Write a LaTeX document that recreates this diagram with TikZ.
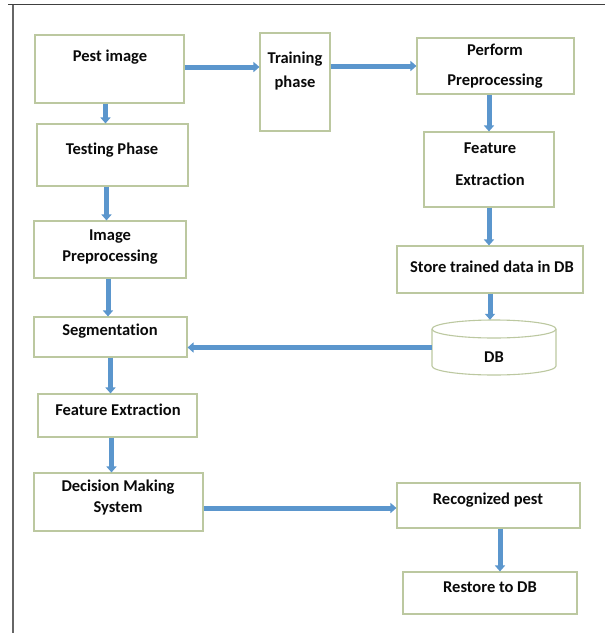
\documentclass[tikz,border=0pt]{standalone}
\usepackage{fontspec}
\setmainfont{Carlito}[Ligatures=NoCommon]
\usetikzlibrary{arrows.meta,calc}
\definecolor{boxline}{RGB}{188,200,160}
\definecolor{arrowblue}{RGB}{91,150,205}
\definecolor{txt}{RGB}{10,10,10}
\begin{document}
\begin{tikzpicture}[x=1pt,y=1pt,
  box/.style={draw=boxline,line width=1.1pt,fill=white,rectangle,inner sep=0pt},
  lbl/.style={text=txt,font=\bfseries\fontsize{16.5}{19}\selectfont,inner sep=0pt,anchor=center},
  flow/.style={draw=arrowblue,line width=5pt,-{Triangle[width=10pt,length=6pt]}},
  hole/.style={inner sep=0pt,minimum width=124pt,minimum height=55pt}]
\useasboundingbox (0,0) rectangle (605,-633);
\fill[white] (0,0) rectangle (605,-633);
% frame
\coordinate (ftl) at (8,-4.5);
\coordinate (ftr) at (605,-4.5);
\coordinate (fl1) at (13,-4.5);
\coordinate (fl2) at (13,-633);
\draw[line width=1.4pt,black!75] (ftl) -- (ftr);
\draw[line width=1.6pt,black!60] (fl1) -- (fl2);

% boxes
\node[box,minimum width=149pt,minimum height=68pt] (pest) at (109.5,-69) {};
\node[box,minimum width=70pt,minimum height=98pt] (train) at (295,-82) {};
\node[box,minimum width=157pt,minimum height=56pt] (perf) at (495.5,-66) {};
\node[box,minimum width=151pt,minimum height=62pt] (test) at (112.5,-155) {};
\node[box,minimum width=130pt,minimum height=75pt] (fer) at (489,-169.5) {};
\node[box,minimum width=152pt,minimum height=57pt] (imgpre) at (110,-249.5) {};
\node[box,minimum width=186pt,minimum height=47pt] (store) at (490,-269.5) {};
\node[box,minimum width=153pt,minimum height=40pt] (seg) at (110.5,-337) {};
\node[box,minimum width=159pt,minimum height=43pt] (fel) at (117.5,-415.5) {};
\node[box,minimum width=169pt,minimum height=58pt] (dec) at (118.5,-502) {};
\node[box,minimum width=183pt,minimum height=45pt] (rec) at (488.5,-505.5) {};
\node[box,minimum width=174pt,minimum height=42pt] (rest) at (490,-593) {};

% DB cylinder
\node[hole] (db) at (494,-347.5) {};
\draw[draw=boxline,line width=1.1pt,fill=white]
  (432,-329) -- (432,-366) arc[start angle=180,end angle=360,x radius=62,y radius=9]
  -- (556,-329) arc[start angle=0,end angle=180,x radius=62,y radius=9] -- cycle;
\draw[draw=boxline,line width=1.1pt] (432,-329) arc[start angle=180,end angle=360,x radius=62,y radius=9];

% labels
\node[lbl] (t-pest) at (110,-57) {Pest image};
\node[lbl] (t-train1) at (295,-59) {Training};
\node[lbl] (t-train2) at (295,-83) {phase};
\node[lbl] (t-perf1) at (495,-50) {Perform};
\node[lbl] (t-perf2) at (495,-81) {Preprocessing};
\node[lbl] (t-test) at (112,-150) {Testing Phase};
\node[lbl] (t-fer1) at (490,-148) {Feature};
\node[lbl] (t-fer2) at (490,-180) {Extraction};
\node[lbl] (t-img1) at (110,-237) {Image};
\node[lbl] (t-img2) at (110,-257) {Preprocessing};
\node[lbl] (t-store) at (492,-267) {Store trained data in DB};
\node[lbl] (t-seg) at (110,-331) {Segmentation};
\node[lbl] (t-db) at (494,-357) {DB};
\node[lbl] (t-fel) at (118,-410) {Feature Extraction};
\node[lbl] (t-dec1) at (118,-487) {Decision Making};
\node[lbl] (t-dec2) at (118,-508) {System};
\node[lbl] (t-rec) at (488,-500) {Recognized pest};
\node[lbl] (t-rest) at (490,-587) {Restore to DB};

% connectors
\draw[flow] ([yshift=2pt]pest.east) -- ([yshift=2pt]pest.east -| train.west);
\draw[flow] (train.east |- perf.west) -- (perf.west);
\draw[flow] ([xshift=-4pt]pest.south) -- ([xshift=-4pt]pest.south |- test.north);
\draw[flow] (fer.north |- perf.south) -- (fer.north);
\draw[flow] (fer.south) -- (fer.south |- store.north);
\draw[flow] (store.south) -- (store.south |- db.north);
\draw[flow] ([xshift=-6pt]test.south) -- ([xshift=-6pt]test.south |- imgpre.north);
\draw[flow] ([xshift=-2pt]imgpre.south) -- ([xshift=-2pt]imgpre.south |- seg.north);
\draw[flow] (db.west) -- (db.west -| seg.east);
\draw[flow] (seg.south) -- (seg.south |- fel.north);
\draw[flow] ([xshift=-6pt]fel.south) -- ([xshift=-6pt]fel.south |- dec.north);
\draw[flow] ([yshift=-6pt]dec.east) -- ([yshift=-6pt]dec.east -| rec.west);
\draw[flow] ([xshift=11.5pt]rec.south) -- ([xshift=11.5pt]rec.south |- rest.north);
\end{tikzpicture}
\end{document}
